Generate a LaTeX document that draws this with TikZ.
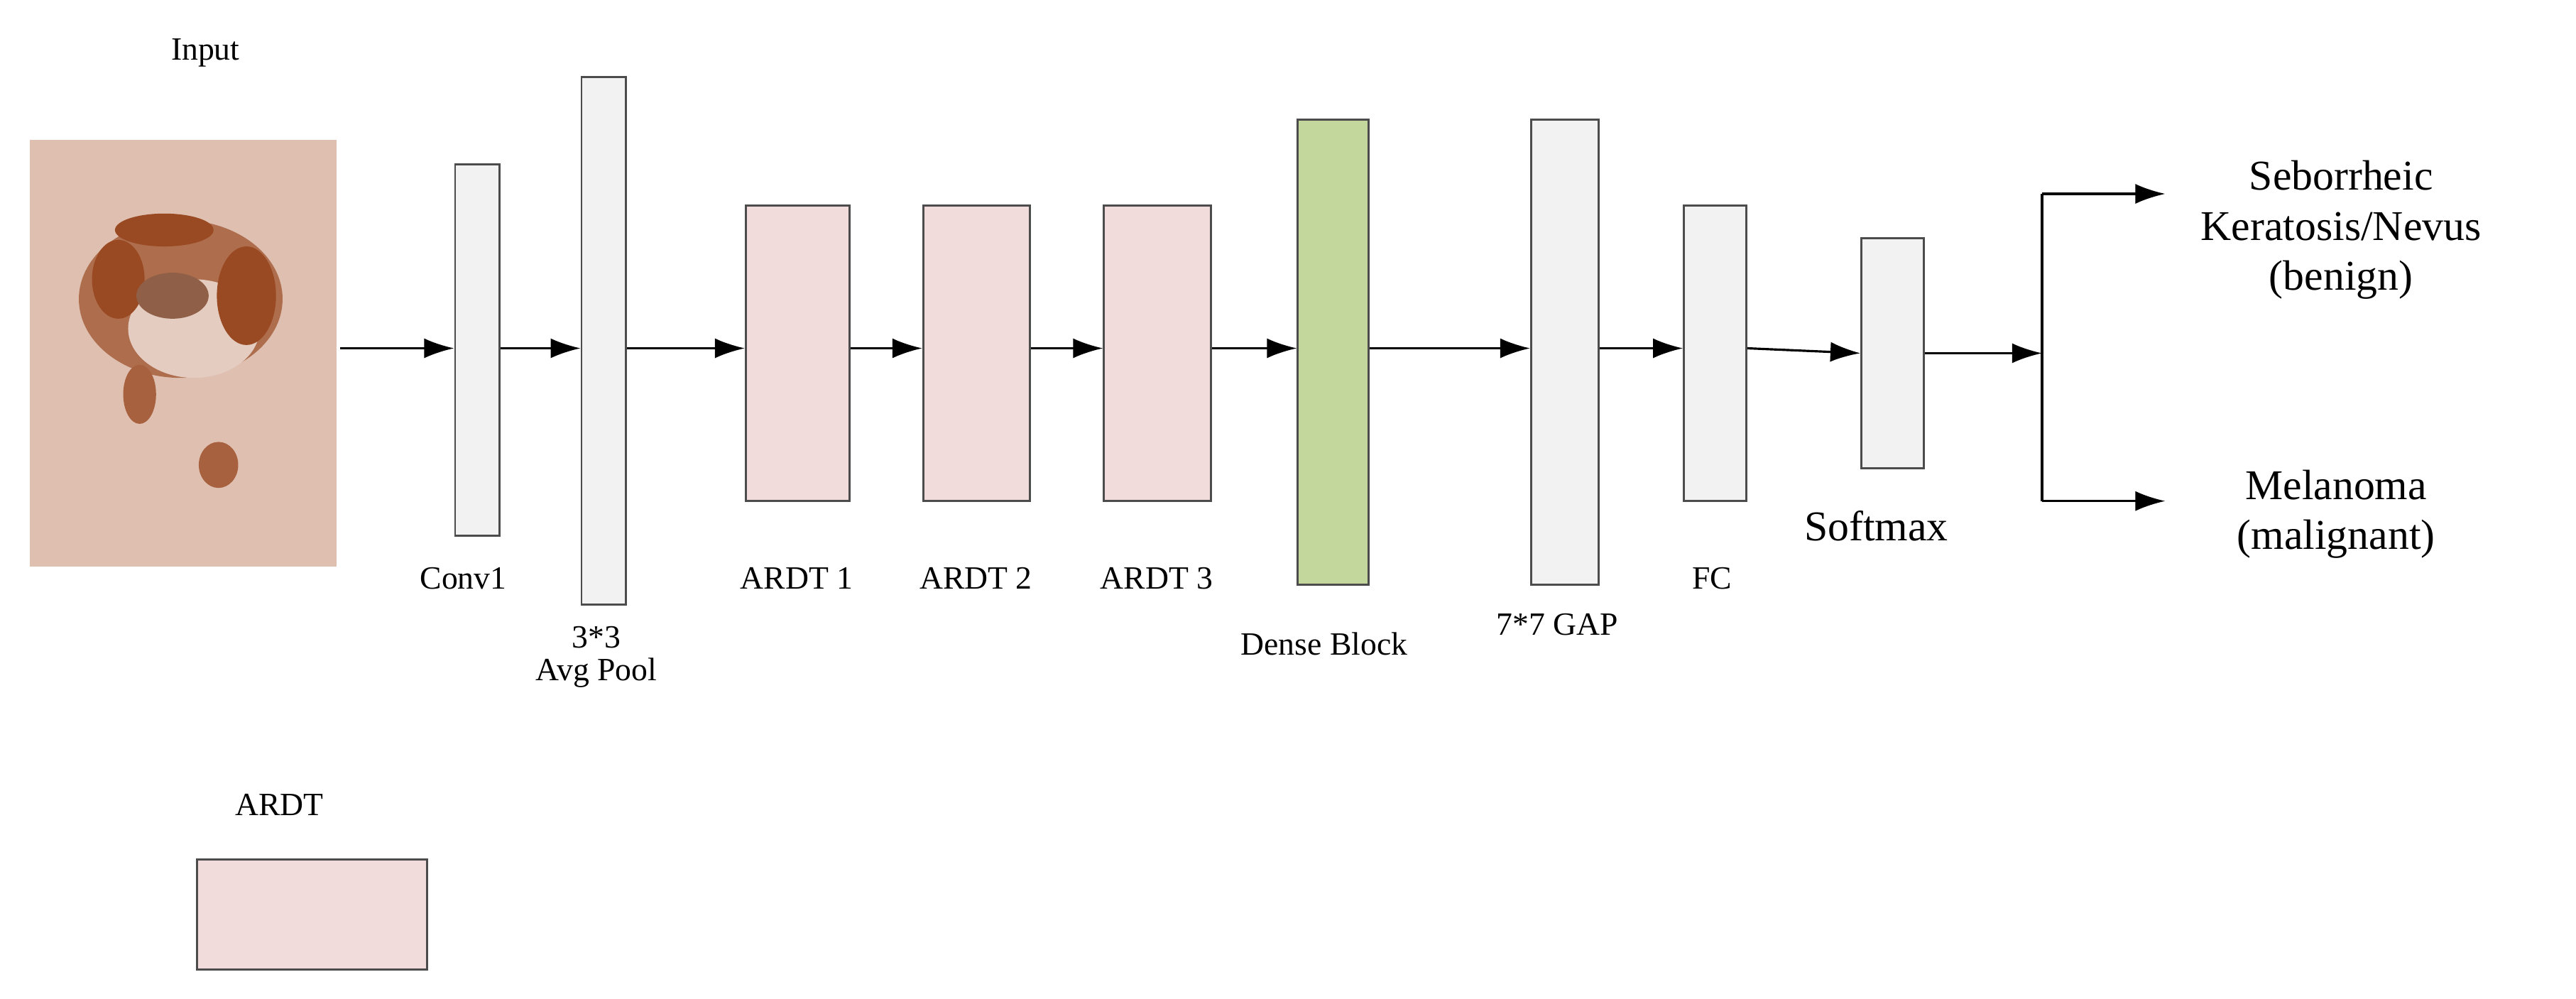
\documentclass[tikz,border=0pt]{standalone}
\usepackage{fontspec}
\setmainfont{Liberation Serif}
\usetikzlibrary{arrows.meta}
\definecolor{gbox}{HTML}{F2F2F2}
\definecolor{pbox}{HTML}{F2DCDB}
\definecolor{dbox}{HTML}{C3D69B}
\definecolor{skin}{HTML}{DEBFB0}
\definecolor{lesion}{HTML}{9A4A22}
\begin{document}
\begin{tikzpicture}[x=0.02314cm,y=-0.02314cm,
  blk/.style={draw=black!70,line width=0.8pt},
  lab/.style={font=\fontsize{13}{15}\selectfont,align=center},
  big/.style={font=\fontsize{17}{20}\selectfont,align=center},
  arr/.style={-{Latex[length=12pt,width=8pt]},line width=0.9pt}]
\useasboundingbox (0,0) rectangle (1568,608);
\node[lab] (tin) at (125,32) {Input};
% skin image
\node[inner sep=0,minimum width=187*0.02314cm,minimum height=260*0.02314cm,fill=skin] (img) at (111.5,215) {};
\fill[lesion!70!skin] (110,182) ellipse (62 and 48);
\fill[skin!80!white] (118,200) ellipse (40 and 30);
\fill[lesion] (72,170) ellipse (16 and 24);
\fill[lesion] (150,180) ellipse (18 and 30);
\fill[lesion] (100,140) ellipse (30 and 10);
\fill[lesion!60!gray] (105,180) ellipse (22 and 14);
\fill[lesion!80!skin] (85,240) ellipse (10 and 18);
\fill[lesion!80!skin] (133,283) ellipse (12 and 14);
\node[blk,fill=gbox,minimum width=27*0.02314cm,minimum height=226*0.02314cm,inner sep=0] (c1) at (290.5,213) {};
\node[blk,fill=gbox,minimum width=27*0.02314cm,minimum height=321*0.02314cm,inner sep=0] (ap) at (367.5,207.5) {};
\node[blk,fill=pbox,minimum width=63*0.02314cm,minimum height=180*0.02314cm,inner sep=0] (a1) at (485.5,215) {};
\node[blk,fill=pbox,minimum width=65*0.02314cm,minimum height=180*0.02314cm,inner sep=0] (a2) at (594.5,215) {};
\node[blk,fill=pbox,minimum width=65*0.02314cm,minimum height=180*0.02314cm,inner sep=0] (a3) at (704.5,215) {};
\node[blk,fill=dbox,minimum width=43*0.02314cm,minimum height=283*0.02314cm,inner sep=0] (db) at (811.5,214.5) {};
\node[blk,fill=gbox,minimum width=41*0.02314cm,minimum height=283*0.02314cm,inner sep=0] (gap) at (952.5,214.5) {};
\node[blk,fill=gbox,minimum width=38*0.02314cm,minimum height=180*0.02314cm,inner sep=0] (fc) at (1044,215) {};
\node[blk,fill=gbox,minimum width=38*0.02314cm,minimum height=140*0.02314cm,inner sep=0] (sm) at (1152,215) {};
\node[lab] at (282,352) {Conv1};
\node[lab] at (363,400) {3*3\\[-2pt]Avg Pool};
\node[lab] at (485,352) {ARDT 1};
\node[lab] at (594,352) {ARDT 2};
\node[lab] at (704,352) {ARDT 3};
\node[lab] at (806,392) {Dense Block};
\node[lab] at (948,380) {7*7 GAP};
\node[lab] at (1042,352) {FC};
\node[big] at (1142,320) {Softmax};
\coordinate (s) at (207,212);
\coordinate (j) at (1243,215);
\coordinate (jt) at (1243,118);
\coordinate (jb) at (1243,305);
\coordinate (ot) at (1318,118);
\coordinate (ob) at (1318,305);
\draw[arr] (s) -- (c1.west|-s);
\draw[arr] (c1.east|-s) -- (ap.west|-s);
\draw[arr] (ap.east|-s) -- (a1.west|-s);
\draw[arr] (a1.east|-s) -- (a2.west|-s);
\draw[arr] (a2.east|-s) -- (a3.west|-s);
\draw[arr] (a3.east|-s) -- (db.west|-s);
\draw[arr] (db.east|-s) -- (gap.west|-s);
\draw[arr] (gap.east|-s) -- (fc.west|-s);
\draw[arr] (fc.east|-s) -- (sm.west|-j);
\draw[arr] (sm.east|-j) -- (j);
\draw[line width=0.9pt] (jt) -- (jb);
\draw[arr] (jt) -- (ot);
\draw[arr] (jb) -- (ob);
\node[big] at (1425,140) {Seborrheic\\Keratosis/Nevus\\(benign)};
\node[big] at (1422,313) {Melanoma\\(malignant)};
\node[lab] at (170,490) {ARDT};
\node[blk,fill=pbox,minimum width=140*0.02314cm,minimum height=67*0.02314cm,inner sep=0] (leg) at (190,556.5) {};
\end{tikzpicture}
\end{document}
